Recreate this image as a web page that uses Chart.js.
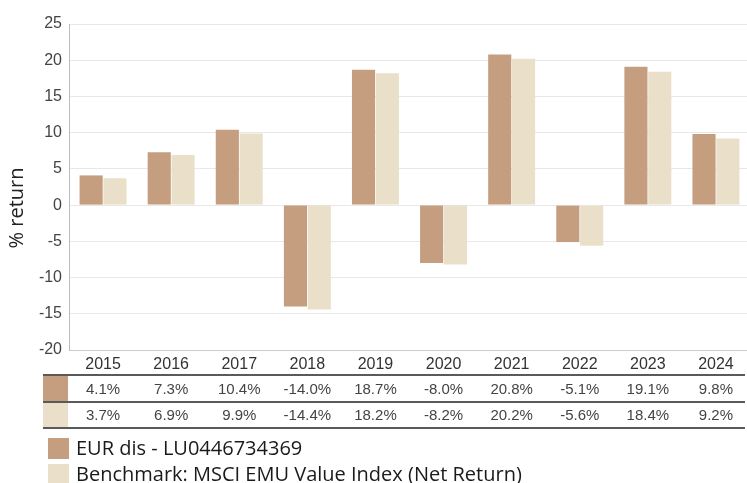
<!DOCTYPE html>
<html>
<head>
<meta charset="utf-8">
<script src="https://cdn.jsdelivr.net/npm/chart.js@4.4.1/dist/chart.umd.min.js"></script>
<style>
    body { margin: 0; background: #fff; }
    #wrap { width: 747px; height: 483px; overflow: hidden; }
</style>
</head>
<body>
<div id="wrap"><canvas id="returnsChart" width="750" height="483"></canvas></div>
<script>
// Calendar year returns
const years = ['2015', '2016', '2017', '2018', '2019', '2020', '2021', '2022', '2023', '2024'];
const fundReturns = [4.1, 7.3, 10.4, -14.0, 18.7, -8.0, 20.8, -5.1, 19.1, 9.8];
const benchReturns = [3.7, 6.9, 9.9, -14.4, 18.2, -8.2, 20.2, -5.6, 18.4, 9.2];
const fundLabel = 'EUR dis - LU0446734369';
const benchLabel = 'Benchmark: MSCI EMU Value Index (Net Return)';
const yTitle = '% return';
const yMin = -20, yMax = 25, yStep = 5;

const FUND_COLOR = '#C49E7F';
const BENCH_COLOR = '#EAE0C9';
const TICK_FONT = '"Liberation Sans", Arial, sans-serif';
const TEXT_FONT = '"Open Sans", "Noto Sans", sans-serif';

/**
 * Draws the axis title, the value table under the x axis and the legend
 */
const tablePlugin = {
    id: 'returnsTable',
    afterDraw(chart) {
        const ctx = chart.ctx;
        const xScale = chart.scales.x;
        const rows = [
            { values: fundReturns, y: 390 },
            { values: benchReturns, y: 416 }
        ];

        ctx.save();

        // y axis title (sits a little below the middle, as in the source)
        ctx.save();
        ctx.translate(17, 208);
        ctx.rotate(-Math.PI / 2);
        ctx.font = '20px ' + TEXT_FONT;
        ctx.fillStyle = '#222';
        ctx.textAlign = 'center';
        ctx.textBaseline = 'middle';
        ctx.fillText(yTitle, 0, 0);
        ctx.restore();

        // swatches in front of each row
        ctx.fillStyle = FUND_COLOR;
        ctx.fillRect(43, 376, 25, 26);
        ctx.fillStyle = BENCH_COLOR;
        ctx.fillRect(43, 403, 25, 25);

        // row lines
        ctx.strokeStyle = '#5a5a5a';
        ctx.lineWidth = 2;
        [375, 402, 428].forEach(y => {
            ctx.beginPath();
            ctx.moveTo(43, y);
            ctx.lineTo(745, y);
            ctx.stroke();
        });

        // values
        ctx.font = '15px ' + TICK_FONT;
        ctx.fillStyle = '#444';
        ctx.textAlign = 'center';
        ctx.textBaseline = 'middle';
        rows.forEach(row => {
            row.values.forEach((v, i) => {
                ctx.fillText(v.toFixed(1) + '%', xScale.getPixelForTick(i), row.y);
            });
        });

        // legend
        const items = [
            { label: fundLabel, color: FUND_COLOR, y: 438 },
            { label: benchLabel, color: BENCH_COLOR, y: 464 }
        ];
        ctx.font = '20px ' + TEXT_FONT;
        ctx.textAlign = 'left';
        items.forEach(item => {
            ctx.fillStyle = item.color;
            ctx.fillRect(48, item.y, 21, 21);
            ctx.fillStyle = '#1a1a1a';
            ctx.fillText(item.label, 76, item.y + 11);
        });
        ctx.restore();
    }
};

const ctx = document.getElementById('returnsChart').getContext('2d');

new Chart(ctx, {
    type: 'bar',
    data: {
        labels: years,
        datasets: [{
            label: fundLabel,
            data: fundReturns,
            backgroundColor: FUND_COLOR,
            borderWidth: 0,
            categoryPercentage: 0.7,
            barPercentage: 0.97
        }, {
            label: benchLabel,
            data: benchReturns,
            backgroundColor: BENCH_COLOR,
            borderWidth: 0,
            categoryPercentage: 0.7,
            barPercentage: 0.97
        }]
    },
    options: {
        responsive: false,
        animation: false,
        layout: {
            padding: { top: 24, right: 0, bottom: 0, left: 0 }
        },
        plugins: {
            legend: { display: false },
            tooltip: { enabled: false }
        },
        scales: {
            x: {
                grid: { display: false, drawTicks: false },
                border: { color: '#cccccc', width: 1 },
                ticks: {
                    padding: 5,
                    color: '#333',
                    font: { family: TICK_FONT, size: 16 }
                },
                afterFit: function(scale) {
                    scale.height = 133;
                }
            },
            y: {
                min: yMin,
                max: yMax,
                grid: { color: '#e8e8e8', drawTicks: false },
                border: { color: '#bbbbbb', width: 1 },
                ticks: {
                    stepSize: yStep,
                    padding: 7,
                    color: '#444',
                    font: { family: TICK_FONT, size: 16 }
                },
                afterFit: function(scale) {
                    scale.width = 69;
                }
            }
        }
    },
    plugins: [tablePlugin]
});
</script>
</body>
</html>
